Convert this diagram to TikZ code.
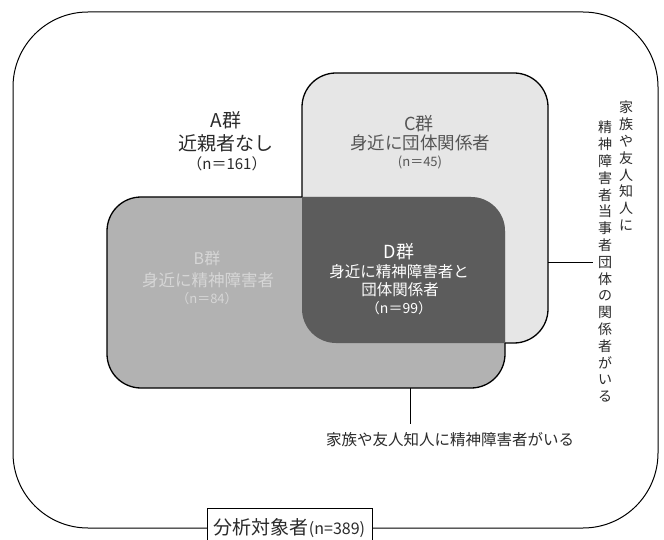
\documentclass[tikz,border=0pt]{standalone}
\usepackage{fontspec}
\newfontfamily\jp{Noto Sans CJK JP}
\definecolor{cfill}{HTML}{E6E6E6}
\definecolor{bfill}{HTML}{B2B2B2}
\definecolor{dfill}{HTML}{5C5C5C}
\definecolor{btext}{HTML}{D6D6D6}
\definecolor{ctext}{HTML}{555555}
\definecolor{atext}{HTML}{2A2A2A}
\newcommand\fs[1]{\jp\fontsize{#1}{#1}\selectfont}
\tikzset{
  border/.style={line width=1.3pt, black, rounded corners=34pt},
  lbl/.style={inner sep=0pt, anchor=center},
  conn/.style={line width=1pt, black},
  vcol/.style={inner sep=0pt, align=center, anchor=north, font=\jp\fontsize{14}{16.8}\selectfont, text=atext}
}
\begin{document}
\begin{tikzpicture}[x=1pt,y=-1pt]
\useasboundingbox (0,0) rectangle (664,540);
\fill[white] (0,0) rectangle (664,540);
% outer frame
\draw[line width=1pt, rounded corners=75pt] (13,12) rectangle (658,528);
% fills
\fill[cfill, rounded corners=34pt] (302,73) -- (548,73) -- (548,343) -- (302,343) -- cycle;
\fill[bfill, rounded corners=34pt] (107,197) -- (505,197) -- (505,388) -- (107,388) -- cycle;
\begin{scope}
  \clip[rounded corners=34pt] (107,197) -- (505,197) -- (505,388) -- (107,388) -- cycle;
  \fill[dfill, rounded corners=34pt] (302,73) -- (548,73) -- (548,343) -- (302,343) -- cycle;
\end{scope}
% C border outside B
\begin{scope}
  \clip (-20,-20) -- (-20,600) -- (700,600) -- (700,-20) -- cycle
        [rounded corners=34pt] (107,197) -- (505,197) -- (505,388) -- (107,388) -- cycle;
  \draw[border] (302,73) -- (548,73) -- (548,343) -- (302,343) -- cycle;
\end{scope}
% B border outside C
\begin{scope}
  \clip (-20,-20) -- (-20,600) -- (700,600) -- (700,-20) -- cycle
        [rounded corners=34pt] (302,73) -- (548,73) -- (548,343) -- (302,343) -- cycle;
  \draw[border] (107,197) -- (505,197) -- (505,388) -- (107,388) -- cycle;
\end{scope}
% A texts
\node[lbl, font=\fs{19}, text=atext] (A1) at (226,120) {A群};
\node[lbl, font=\fs{19}, text=atext] (A2) at (226,143) {近親者なし};
\node[lbl, font=\fs{15}, text=atext] (A3) at (227,164) {（n＝161）};
% C texts
\node[lbl, font=\fs{18}, text=ctext] (C1) at (419,124) {C群};
\node[lbl, font=\fs{17.5}, text=ctext] (C2) at (420,143) {身近に団体関係者};
\node[lbl, font=\fs{13}, text=ctext] (C3) at (420,162) {(n＝45)};
% B texts
\node[lbl, font=\fs{16}, text=btext] (B1) at (207,258) {B群};
\node[lbl, font=\fs{16.5}, text=btext] (B2) at (208,280) {身近に精神障害者};
\node[lbl, font=\fs{13}, text=btext] (B3) at (207,299) {（n＝84）};
% D texts
\node[lbl, font=\fs{18}, text=white] (D1) at (399,252) {D群};
\node[lbl, font=\fs{15.5}, text=white] (D2) at (399,272) {身近に精神障害者と};
\node[lbl, font=\fs{15.5}, text=white] (D3) at (400,290) {団体関係者};
\node[lbl, font=\fs{14}, text=white] (D4) at (399,308) {（n＝99）};
% right vertical texts
\node[vcol] (rcol) at (626,101) {家\\族\\や\\友\\人\\知\\人\\に};
\node[vcol] (lcol) at (605,121) {精\\神\\障\\害\\者\\当\\事\\者\\団\\体\\の\\関\\係\\者\\が\\い\\る};
\coordinate (cR) at (548,262);
\draw[conn] (cR) -- ([xshift=-5pt]cR -| lcol.west);
% bottom text
\node[lbl, font=\fs{15.5}, text=atext] (btxt) at (450,440) {家族や友人知人に精神障害者がいる};
\coordinate (bB) at (410,388);
\draw[conn] (bB) -- ([yshift=9pt]bB |- btxt.north);
% title
\node[draw, line width=0.9pt, fill=white, minimum width=165pt, minimum height=40pt, inner sep=0pt,
      font=\fs{19}, text=atext] (title) at (289.5,528) {分析対象者{\fontsize{16}{16}\selectfont(n=389)}};
\end{tikzpicture}
\end{document}
